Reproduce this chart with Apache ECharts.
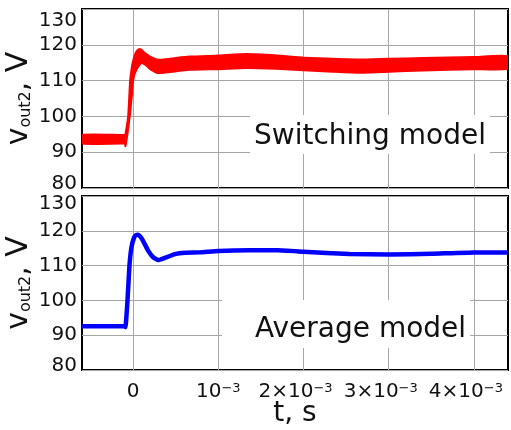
<!DOCTYPE html>
<html>
<head>
<meta charset="utf-8">
<script src="https://cdn.jsdelivr.net/npm/echarts@6/dist/echarts.min.js"></script>
<style>
  html, body { margin: 0; padding: 0; background: #fff; }
  #chart { width: 511px; height: 430px; }
</style>
</head>
<body>
<div id="chart"></div>
<script>
// time in ms (axis labels shown in seconds)
const tickValues = [0, 1, 2, 3, 4];
const tickLabels = ['0', '10^-3', '2×10^-3', '3×10^-3', '4×10^-3'];
const yTicks = [80, 90, 100, 110, 120, 130];

// switching model: ripple envelope (upper / lower)
const swTime  = [-0.6, -0.097, -0.09, -0.058, -0.035, -0.01, 0, 0.02, 0.05, 0.078, 0.1, 0.15, 0.2, 0.29, 0.4, 0.5, 0.66, 1.0, 1.33, 1.68, 2.0, 2.34, 2.66, 3.0, 3.4, 4.0, 4.4];
const swUpper = [94.8, 94.8, 95.0, 100, 110, 114.5, 115.5, 117.2, 118.4, 118.8, 118.5, 117.5, 116.7, 115.8, 116.0, 116.3, 116.7, 117.0, 117.4, 117.0, 116.4, 116.1, 115.9, 116.1, 116.3, 116.6, 116.8];
const swLower = [92.4, 92.4, 91.7, 96.5, 101, 107, 110, 112.0, 113.5, 114.5, 114.9, 114.3, 113.2, 112.1, 112.3, 112.6, 113.0, 113.2, 113.5, 113.3, 112.9, 112.5, 112.2, 112.5, 112.8, 113.2, 113.3];

// average model
const avTime  = [-0.6, -0.1, -0.09, -0.066, -0.043, -0.02, 0.012, 0.035, 0.059, 0.085, 0.117, 0.176, 0.235, 0.293, 0.37, 0.49, 0.61, 0.78, 1.0, 1.37, 1.7, 2.0, 2.54, 3.0, 3.5, 4.0, 4.4];
const avValue = [92.6, 92.6, 92.3, 100, 110, 115.2, 118.1, 118.8, 118.9, 118.3, 117.1, 114.3, 112.4, 111.6, 112.2, 113.3, 113.7, 113.8, 114.2, 114.4, 114.4, 114.0, 113.3, 113.2, 113.4, 113.8, 113.8];

const font = 'DejaVu Sans';
const ink = '#111';

const pairs = (xs, ys) => xs.map((x, i) => [x, ys[i]]);

function xLabel(v) {
  const i = tickValues.indexOf(v);
  if (i < 0) return '';
  const parts = tickLabels[i].split('^');
  if (parts.length === 1) return '{n|' + parts[0] + '}';
  const sup = parts[1].replace('-', '\u2212');
  return '{n|' + parts[0] + '}' + (i > 1 ? '{sl|' + sup + '}' : '{s|' + sup + '}');
}

function yLabel(v) {
  if (v === yTicks[yTicks.length - 1]) return '{t|' + v + '}';
  if (v === yTicks[0]) return '{b|' + v + '}';
  return '{m|' + v + '}';
}

const yName = '{v|v}{sub|out2}{v|, V}';
const yNameStyle = {
  rich: {
    v: { fontSize: 30, color: ink, fontFamily: font },
    sub: { fontSize: 16, color: ink, fontFamily: font, verticalAlign: 'bottom', padding: [8, 0, 0, 0] }
  }
};

function makeY(gridIndex) {
  return {
    type: 'value',
    gridIndex,
    min: yTicks[0],
    max: yTicks[yTicks.length - 1],
    interval: 10,
    name: yName,
    nameLocation: 'middle',
    nameRotate: 90,
    nameGap: 48,
    nameMoveOverlap: false,
    nameTextStyle: yNameStyle,
    axisLine: { show: false },
    axisTick: { show: false },
    axisLabel: {
      margin: 5,
      formatter: yLabel,
      rich: {
        m: { fontSize: 20, color: ink, fontFamily: font },
        t: { fontSize: 20, color: ink, fontFamily: font, padding: [gridIndex === 0 ? 24 : 16, 0, 0, 0] },
        b: { fontSize: 20, color: ink, fontFamily: font, padding: [0, 0, 9, 0] }
      }
    },
    splitLine: { lineStyle: { color: '#a6a6a6', width: 1 } }
  };
}

function makeX(gridIndex, showLabels) {
  return {
    type: 'value',
    gridIndex,
    min: -0.6,
    max: 4.4,
    name: showLabels ? 't, s' : '',
    nameLocation: 'middle',
    nameGap: 30,
    nameMoveOverlap: false,
    nameTextStyle: { fontSize: 28, color: ink, fontFamily: font },
    axisLine: { show: false },
    axisTick: { show: false, customValues: tickValues },
    axisLabel: {
      show: showLabels,
      customValues: tickValues,
      margin: 12,
      formatter: xLabel,
      rich: {
        n: { fontSize: 20, color: ink, fontFamily: font },
        s: { fontSize: 13, color: ink, fontFamily: font, verticalAlign: 'top' },
        sl: { fontSize: 13, color: ink, fontFamily: font, verticalAlign: 'top', padding: [0, 16, 0, 0] }
      }
    },
    splitLine: { show: true, lineStyle: { color: '#a6a6a6', width: 1 } }
  };
}

const chart = echarts.init(document.getElementById('chart'), null, { renderer: 'canvas' });

const option = {
  animation: false,
  backgroundColor: '#fff',
  textStyle: { fontFamily: font },
  grid: [
    { left: 82, top: 9, width: 426, height: 179, show: true, borderColor: '#000', borderWidth: 2, outerBoundsMode: 'none' },
    { left: 82, top: 196, width: 426, height: 174, show: true, borderColor: '#000', borderWidth: 2, outerBoundsMode: 'none' }
  ],
  xAxis: [makeX(0, false), makeX(1, true)],
  yAxis: [makeY(0), makeY(1)],
  series: [
    {
      // ripple band of the switching model, filled between the envelopes
      name: 'switching',
      type: 'custom',
      xAxisIndex: 0, yAxisIndex: 0,
      clip: true,
      encode: { x: 0, y: [1, 2] },
      data: swTime.map((t, i) => [t, swLower[i], swUpper[i]]),
      renderItem(params, api) {
        if (params.dataIndex !== 0) return null;
        const top = swTime.map((t, i) => api.coord([t, swUpper[i]]));
        const bottom = swTime.map((t, i) => api.coord([t, swLower[i]])).reverse();
        return {
          type: 'polygon',
          shape: { points: top.concat(bottom), smooth: 0.15 },
          style: { fill: '#ff0000', stroke: '#ff0000', lineWidth: 2, lineJoin: 'round' }
        };
      }
    },
    {
      name: 'average',
      type: 'line',
      xAxisIndex: 1, yAxisIndex: 1,
      symbol: 'none',
      smooth: 0.12,
      data: pairs(avTime, avValue),
      lineStyle: { color: '#0000ff', width: 4.5, join: 'round' }
    }
  ],
  graphic: [
    {
      type: 'text', left: 250, top: 115, z: 100,
      style: { text: 'Switching model', font: '28px "DejaVu Sans"', fill: ink, backgroundColor: '#fff', padding: [8, 4, 3, 4] }
    },
    {
      type: 'text', left: 222, top: 300, z: 100,
      style: { text: 'Average model', font: '28px "DejaVu Sans"', fill: ink, backgroundColor: '#fff', padding: [16, 4, 4, 33] }
    }
  ]
};

chart.setOption(option);
</script>
</body>
</html>
